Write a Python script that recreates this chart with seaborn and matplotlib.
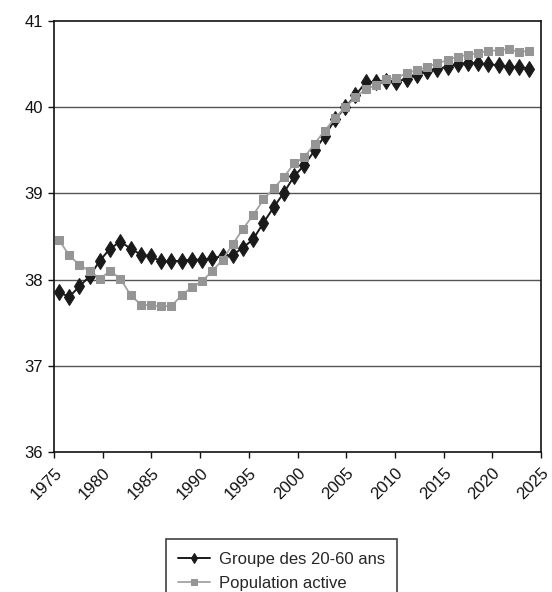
import numpy as np
import pandas as pd
import matplotlib
matplotlib.use("Agg")
import matplotlib.pyplot as plt
import seaborn as sns

# annual points of the two series
YEARS = list(range(1976, 2023))
GROUPE_20_60 = [
    37.85, 37.80, 37.92, 38.04, 38.22, 38.36, 38.44, 38.36, 38.29, 38.27,
    38.21, 38.21, 38.22, 38.23, 38.23, 38.25, 38.27, 38.29, 38.37, 38.47,
    38.66, 38.84, 39.01, 39.20, 39.33, 39.50, 39.67, 39.86, 40.00, 40.14,
    40.29, 40.30, 40.31, 40.30, 40.33, 40.38, 40.42, 40.45, 40.47, 40.50,
    40.52, 40.51, 40.50, 40.49, 40.47, 40.47, 40.45,
]
POP_ACTIVE = [
    38.46, 38.28, 38.17, 38.10, 38.01, 38.10, 38.01, 37.82, 37.71, 37.70,
    37.69, 37.69, 37.82, 37.91, 37.98, 38.10, 38.23, 38.41, 38.59, 38.75,
    38.93, 39.06, 39.19, 39.35, 39.42, 39.58, 39.73, 39.88, 40.00, 40.12,
    40.21, 40.26, 40.33, 40.34, 40.40, 40.43, 40.47, 40.51, 40.55, 40.59,
    40.61, 40.63, 40.66, 40.66, 40.68, 40.64, 40.66,
]
SERIES = ["Groupe des 20-60 ans", "Population active"]
TICK_LABELS = [str(y) for y in range(1975, 2026, 5)]
Y_TICKS = [36, 37, 38, 39, 40, 41]

sns.set_theme(style="white")
plt.rcParams["font.family"] = ["Liberation Sans", "DejaVu Sans"]

fig = plt.figure(figsize=(5.52, 5.92), dpi=100)
ax = fig.add_axes([0.098, 0.237, 0.882, 0.727])

df = pd.DataFrame({"annee": YEARS, SERIES[0]: GROUPE_20_60, SERIES[1]: POP_ACTIVE})

sns.lineplot(data=df, x="annee", y=SERIES[0], ax=ax, color="#1a1a1a",
             linewidth=1.4, marker="d", markersize=8, markeredgecolor="#1a1a1a",
             label=SERIES[0], zorder=3)
sns.lineplot(data=df, x="annee", y=SERIES[1], ax=ax, color="#a3a3a3",
             linewidth=1.3, marker="s", markersize=5.2, markeredgecolor="#959595",
             markerfacecolor="#959595", label=SERIES[1], zorder=4)

# the category axis of the original is a bit wider than the data span
xlim = (1975.52, 2023.14)
ax.set_xlim(*xlim)
ax.set_ylim(36, 41)
ax.set_xticks(np.linspace(xlim[0], xlim[1], len(TICK_LABELS)))
ax.set_xticklabels(TICK_LABELS, rotation=45, ha="right", va="top",
                   rotation_mode="anchor", fontsize=12)
ax.set_yticks(Y_TICKS)
ax.set_yticklabels([str(v) for v in Y_TICKS], fontsize=12)
ax.set_xlabel("")
ax.set_ylabel("")

for v in Y_TICKS[1:-1]:
    ax.axhline(v, color="#555555", linewidth=1.0, zorder=1)

for s in ax.spines.values():
    s.set_visible(True)
    s.set_color("#111111")
    s.set_linewidth(1.2)

ax.tick_params(axis="both", direction="out", length=4, width=1, color="#111111",
               colors="#111111", bottom=True, left=True)
ax.tick_params(axis="x", pad=6)
ax.tick_params(axis="y", pad=4)

leg = ax.legend(loc="upper center", bbox_to_anchor=(0.51, 0.103),
                bbox_transform=fig.transFigure, frameon=True, fancybox=False,
                fontsize=12, handlelength=1.9, handletextpad=0.55,
                borderpad=0.75, labelspacing=0.55, markerscale=0.7)
leg.get_frame().set_edgecolor("#111111")
leg.get_frame().set_linewidth(1.2)

fig.savefig("out.png", dpi=100)
